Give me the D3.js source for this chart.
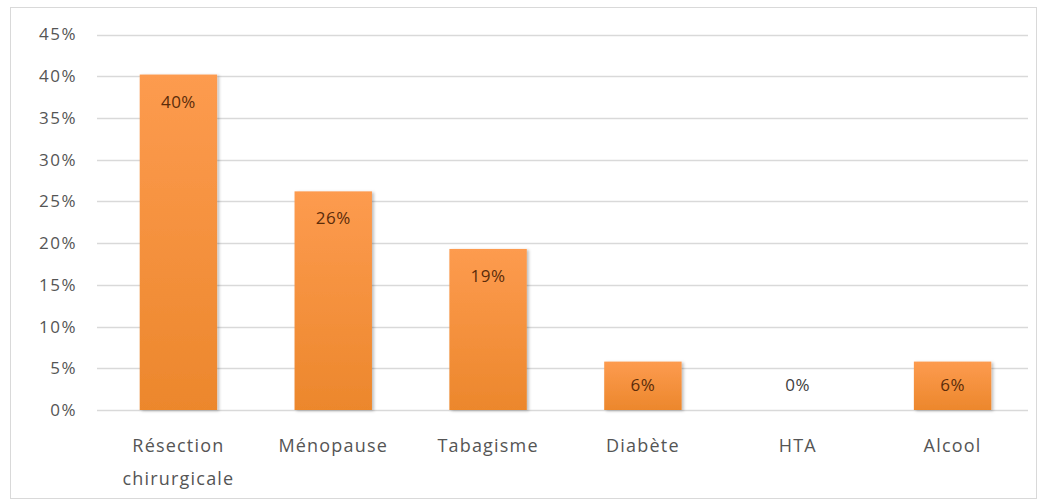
<!DOCTYPE html>
<html>
<head>
<meta charset="utf-8">
<title>Facteurs de risque</title>
<script src="https://d3js.org/d3.v7.min.js"></script>
<style>
  body { margin: 0; background: #fff; }
  text { font-family: "Open Sans", Lato, sans-serif; }
</style>
</head>
<body>
<svg width="1043" height="502"></svg>
<script>
  // data
  var categories = ["Résection chirurgicale", "Ménopause", "Tabagisme", "Diabète", "HTA", "Alcool"];
  var values = [40.2, 26.2, 19.3, 5.8, 0, 5.8];
  var valueLabels = ["40%", "26%", "19%", "6%", "0%", "6%"];
  var yTicks = [0, 5, 10, 15, 20, 25, 30, 35, 40, 45];

  var svg = d3.select("svg");

  // frame round the chart
  svg.append("rect")
    .attr("x", 10.5).attr("y", 7.5)
    .attr("width", 1026).attr("height", 491)
    .attr("fill", "#fff")
    .attr("stroke", "#d9d9d9");

  var x = d3.scaleBand()
    .domain(categories)
    .range([101, 1030])
    .paddingInner(0.5)
    .paddingOuter(0.25);

  var y = d3.scaleLinear()
    .domain([0, 45])
    .range([410, 34.5]);

  var defs = svg.append("defs");
  var grad = defs.append("linearGradient")
    .attr("id", "barGrad")
    .attr("x1", 0).attr("y1", 0).attr("x2", 0).attr("y2", 1);
  grad.append("stop").attr("offset", "0%").attr("stop-color", "#fd9b4f");
  grad.append("stop").attr("offset", "100%").attr("stop-color", "#ec872c");

  var shadow = defs.append("filter").attr("id", "shadow")
    .attr("x", "-10%").attr("y", "-10%").attr("width", "130%").attr("height", "130%");
  shadow.append("feDropShadow")
    .attr("dx", 2).attr("dy", 1).attr("stdDeviation", 1.5)
    .attr("flood-color", "#000").attr("flood-opacity", 0.25);

  // gridlines
  svg.append("g")
    .selectAll("line")
    .data(yTicks)
    .enter().append("line")
    .attr("x1", 97).attr("x2", 1028)
    .attr("y1", function (d) { return Math.round(y(d)) + 0.5; })
    .attr("y2", function (d) { return Math.round(y(d)) + 0.5; })
    .attr("stroke", "#d9d9d9")
    .attr("stroke-width", 1.3);

  // y axis labels
  var yAxis = svg.append("g")
    .attr("transform", "translate(80,0)")
    .call(d3.axisLeft(y).tickValues(yTicks).tickSize(0).tickPadding(3)
      .tickFormat(function (d) { return d + "%"; }));
  yAxis.select(".domain").remove();
  yAxis.selectAll("text")
    .attr("fill", "#555")
    .style("font-size", "17px")
    .style("letter-spacing", "1.5px")
    .style("font-family", "'Open Sans', Lato, sans-serif");

  // bars
  svg.append("g")
    .selectAll("rect")
    .data(values)
    .enter().append("rect")
    .attr("x", function (d, i) { return x(categories[i]); })
    .attr("y", function (d) { return y(d); })
    .attr("width", x.bandwidth())
    .attr("height", function (d) { return y(0) - y(d); })
    .attr("fill", "url(#barGrad)")
    .attr("filter", "url(#shadow)")
    .style("display", function (d) { return d > 0 ? null : "none"; });

  // value labels
  svg.append("g")
    .selectAll("text")
    .data(values)
    .enter().append("text")
    .attr("x", function (d, i) { return x(categories[i]) + x.bandwidth() / 2; })
    .attr("y", function (d) { return Math.min(y(d) + 27, y(0) - 25); })
    .attr("dy", "0.35em")
    .attr("text-anchor", "middle")
    .attr("fill", function (d) { return d > 0 ? "#5b2c0a" : "#404040"; })
    .style("font-size", "17px")
    .style("letter-spacing", "0.5px")
    .text(function (d, i) { return valueLabels[i]; });

  // category labels
  var xAxis = svg.append("g")
    .attr("transform", "translate(0,410)")
    .call(d3.axisBottom(x).tickSize(0).tickPadding(0).tickFormat(""));
  xAxis.select(".domain").remove();
  xAxis.selectAll(".tick text").remove();
  xAxis.selectAll(".tick").append("text")
    .attr("text-anchor", "middle")
    .attr("fill", "#555")
    .style("font-size", "18px")
    .style("letter-spacing", "1.2px")
    .style("font-family", "'Open Sans', Lato, sans-serif")
    .selectAll("tspan")
    .data(function (d) { return d === "Résection chirurgicale" ? ["Résection", "chirurgicale"] : [d]; })
    .enter().append("tspan")
    .attr("x", 0)
    .attr("y", function (d, i) { return 42 + i * 33; })
    .text(function (d) { return d; });
</script>
</body>
</html>
